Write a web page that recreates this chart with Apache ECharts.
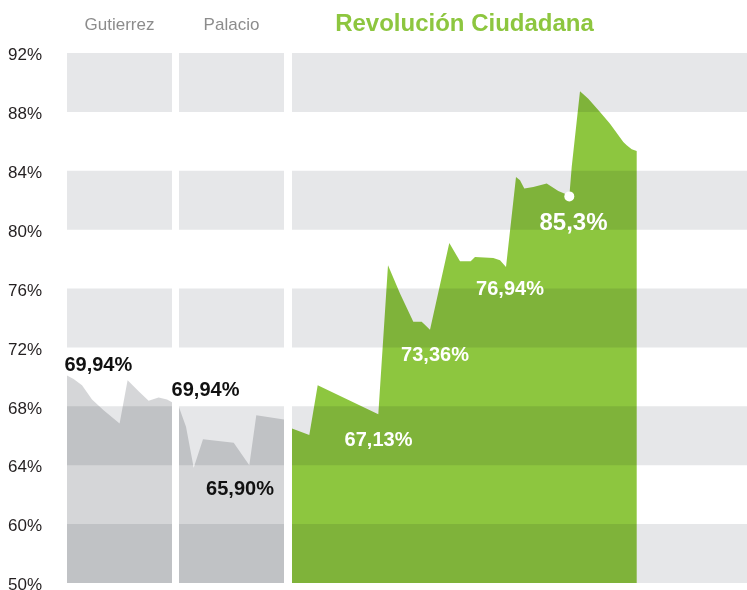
<!DOCTYPE html>
<html><head><meta charset="utf-8">
<script src="https://cdn.jsdelivr.net/npm/echarts@6/dist/echarts.min.js"></script>
<style>html,body{margin:0;padding:0;background:#fff}#c{width:747px;height:590px}</style>
</head><body><div id="c"></div>
<script>
// ---- data ----
const panelNames = ['Gutierrez', 'Palacio', 'Revolución Ciudadana'];
const tickValues = [56, 60, 64, 68, 72, 76, 80, 84, 88, 92];
const tickLabels = ['50%', '60%', '64%', '68%', '72%', '76%', '80%', '84%', '88%', '92%'];

const gutX = [0, 6.6, 15, 25, 36.6, 52.6, 60.6, 71.6, 81.6, 91.6, 100, 105];
const gutV = [70.1, 69.85, 69.44, 68.47, 67.74, 66.84, 69.78, 69.03, 68.38, 68.6, 68.47, 68.27];

const palX = [0, 7, 14.7, 24, 54.7, 70.3, 77.3, 105];
const palV = [67.93, 66.61, 63.83, 65.77, 65.53, 64.0, 67.4, 67.11];

const rcX = [0, 17.3, 25.7, 86.3, 96, 108, 121.3, 129.7, 138, 157.3, 168, 178.7, 183, 201.3, 208, 214,
  224, 228, 232.3, 241.3, 254.7, 266.3, 274.7, 277.3, 279.7, 288, 296.3, 308, 318, 331.3, 334.7, 339.7, 344.7];
const rcV = [66.5, 66.05, 69.44, 67.47, 77.59, 75.67, 73.74, 73.74, 73.2, 79.1, 77.86, 77.86, 78.15, 78.08, 77.93, 77.47,
  83.58, 83.36, 82.79, 82.9, 83.13, 82.63, 82.39, 82.26, 84.26, 89.4, 88.9, 88.0, 87.2, 85.96, 85.73, 85.46, 85.35];
const rcDotIndex = 23;

// annotation labels
const annPanel = [0, 1, 1, 2, 2, 2, 2];
const annX = [31.3, 26.5, 61, 86.5, 143, 218, 281.5];
const annV = [70.8, 69.1, 62.35, 65.7, 71.45, 75.93, 80.4];
const annText = ['69,94%', '69,94%', '65,90%', '67,13%', '73,36%', '76,94%', '85,3%'];
const annDark = [true, true, true, false, false, false, false];
const annBig = [false, false, false, false, false, false, true];

// ---- chart ----
const FONT = '"Liberation Sans", Arial, Helvetica, sans-serif';
const grids = [
  {left: 67, width: 105, top: 53, height: 530, outerBoundsMode: 'none', containLabel: false},
  {left: 179, width: 105, top: 53, height: 530, outerBoundsMode: 'none', containLabel: false},
  {left: 292, width: 455, top: 53, height: 530, outerBoundsMode: 'none', containLabel: false}
];
const xMax = [105, 105, 455];

const xAxes = grids.map((g, i) => ({
  type: 'value', gridIndex: i, min: 0, max: xMax[i], show: false
}));
const yAxes = grids.map((g, i) => ({
  type: 'value', gridIndex: i, min: 56, max: 92, interval: 4,
  axisLine: {show: false}, axisTick: {show: false}, splitLine: {show: false},
  splitArea: {show: true, areaStyle: {color: ['#e6e7e9', 'rgba(255,255,255,0)']}},
  axisLabel: {
    show: i === 0, align: 'left', verticalAlign: 'top', lineHeight: 5, margin: 59, color: '#231f20',
    fontSize: 17, fontFamily: FONT,
    formatter: v => { const k = tickValues.indexOf(v); return k >= 0 ? tickLabels[k] : ''; }
  }
}));

function areaSeries(i, xs, vs, color) {
  return {
    type: 'line', xAxisIndex: i, yAxisIndex: i, symbol: 'none', silent: true,
    data: xs.map((x, k) => [x, vs[k]]),
    lineStyle: {width: 0}, areaStyle: {color: color, opacity: 1, origin: 'start'},
    itemStyle: {color: color}, blendMode: 'multiply', animation: false, z: 2
  };
}

const series = [
  areaSeries(0, gutX, gutV, '#d5d6d8'),
  areaSeries(1, palX, palV, '#d5d6d8'),
  areaSeries(2, rcX, rcV, '#8dc63f'),
  {
    type: 'scatter', xAxisIndex: 2, yAxisIndex: 2, symbolSize: 10, z: 5,
    itemStyle: {color: '#ffffff', opacity: 1}, animation: false, silent: true,
    data: [[rcX[rcDotIndex], rcV[rcDotIndex]]]
  }
];
[0, 1, 2].forEach(p => {
  const items = [];
  annText.forEach((t, k) => {
    if (annPanel[k] !== p) return;
    items.push({
      value: [annX[k], annV[k]],
      label: {
        show: true, position: 'inside', formatter: t, opacity: 1,
        color: annDark[k] ? '#111111' : '#ffffff',
        textBorderWidth: 0, textShadowBlur: 0,
        fontSize: annBig[k] ? 24 : 20, fontWeight: 'bold', fontFamily: FONT
      }
    });
  });
  series.push({
    type: 'scatter', xAxisIndex: p, yAxisIndex: p, symbolSize: 0, z: 6,
    itemStyle: {color: '#ffffff', opacity: 1},
    animation: false, silent: true, data: items
  });
});

const option = {
  backgroundColor: '#ffffff',
  animation: false,
  title: [
    {text: panelNames[0], left: 119.5, top: 17, textAlign: 'center', padding: 0,
      textStyle: {color: '#8c8c8c', fontSize: 17, fontWeight: 'normal', fontFamily: FONT}},
    {text: panelNames[1], left: 231.5, top: 17, textAlign: 'center', padding: 0,
      textStyle: {color: '#8c8c8c', fontSize: 17, fontWeight: 'normal', fontFamily: FONT}},
    {text: panelNames[2], left: 464.5, top: 12, textAlign: 'center', padding: 0,
      textStyle: {color: '#8dc63f', fontSize: 24, fontWeight: 'bold', fontFamily: FONT}}
  ],
  grid: grids,
  xAxis: xAxes,
  yAxis: yAxes,
  series: series
};
const chart = echarts.init(document.getElementById('c'), null, {renderer: 'canvas'});
chart.setOption(option);
</script>
</body></html>
